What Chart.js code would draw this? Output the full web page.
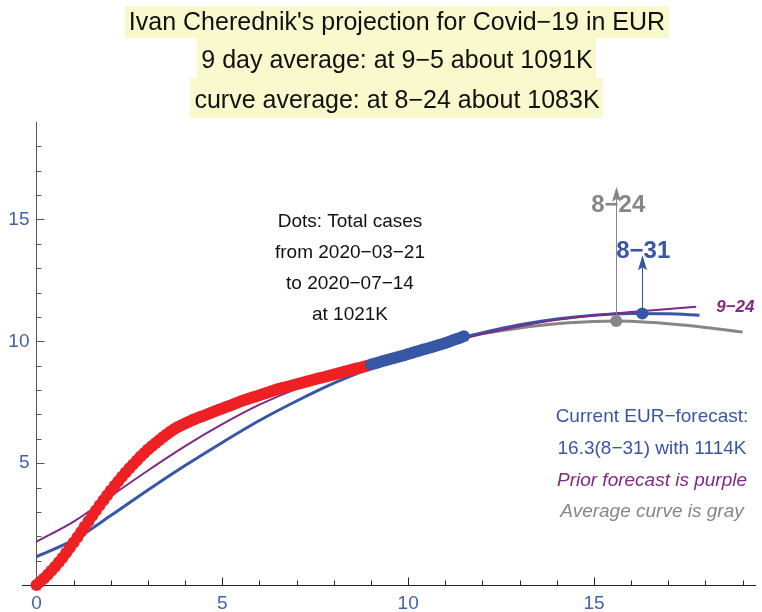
<!DOCTYPE html>
<html><head><meta charset="utf-8">
<script src="https://cdn.jsdelivr.net/npm/chart.js@4.4.0/dist/chart.umd.min.js"></script>
<style>html,body{margin:0;padding:0;background:#fff;}#wrap{width:762px;height:612px;}</style>
</head><body><div id="wrap"><canvas id="c" width="762" height="612"></canvas></div>
<script>
// ---- data ----
const titleLines = ["Ivan Cherednik's projection for Covid\u221219 in EUR",
                    "9 day average: at 9\u22125 about 1091K",
                    "curve average: at 8\u221224 about 1083K"];
const daysPerUnit = 10;
// total cases (100K) daily from 2020-03-21 (day 0)
const redStartDay = 0;
const redValues = [
 0.00,0.13,0.27,0.42,0.58,0.75,0.93,1.12,1.32,1.53,
 1.74,1.96,2.18,2.40,2.62,2.84,3.06,3.27,3.48,3.68,
 3.88,4.07,4.26,4.44,4.62,4.79,4.95,5.11,5.27,5.42,
 5.56,5.69,5.82,5.94,6.06,6.18,6.29,6.39,6.48,6.56,
 6.63,6.70,6.77,6.83,6.89,6.95,7.01,7.07,7.13,7.19,
 7.24,7.30,7.36,7.42,7.48,7.54,7.59,7.64,7.69,7.74,
 7.79,7.84,7.89,7.94,7.99,8.04,8.08,8.12,8.16,8.20,
 8.24,8.28,8.32,8.36,8.40,8.44,8.48,8.52,8.56,8.60,
 8.64,8.68,8.72,8.76,8.80,8.84,8.88,8.92,8.96,9.00];
const blueStartDay = 90;
const blueValues = [
 9.05,9.09,9.13,9.18,9.22,9.26,9.30,9.35,9.39,9.43,
 9.48,9.52,9.57,9.61,9.66,9.70,9.75,9.79,9.84,9.88,
 9.93,9.98,10.04,10.09,10.15,10.21];
// current forecast curve (blue)
const blueCurveX = [0,1,2,3,4,5,6,7,8,9,10,11,12,13,14,15,16,17,17.84];
const blueCurveY = [1.16,1.85,2.85,3.9,4.9,5.85,6.75,7.55,8.28,8.9,9.45,9.95,10.35,10.68,10.92,11.07,11.14,11.13,11.07];
// prior forecast (purple)
const purpleCurveX = [0,1,2,3,4,5,6,7,8,9,10,11,12,13,14,15,16,17,17.75];
const purpleCurveY = [1.78,2.6,3.65,4.7,5.7,6.6,7.4,8.05,8.55,9.0,9.45,9.9,10.3,10.62,10.88,11.06,11.2,11.33,11.42];
// average curve (gray)
const grayCurveX = [11.6,12,13,14,15,15.6,16,17,18,19];
const grayCurveY = [10.21,10.32,10.55,10.72,10.81,10.83,10.82,10.72,10.57,10.38];
// markers: [x, y, arrow tip y]
const grayMarker = [15.6, 10.83, 16.34];
const blueMarker = [16.3, 11.14, 13.53];
const markerLabels = ["8\u221224", "8\u221231", "9\u221224"];
const xTicks = [0,5,10,15];
const yTicks = [5,10,15];
const dotsText = ["Dots: Total cases","from 2020\u221203\u221221","to 2020\u221207\u221214","at 1021K"];
const legendText = ["Current EUR\u2212forecast:","16.3(8\u221231) with 1114K","Prior forecast is purple","Average curve is gray"];

// ---- styles ----
const C_BLUE = '#3757a6', C_PURPLE = '#7f2a85', C_GRAY = '#868686', C_RED = '#ee2024', C_TICK = '#4462ab';
const FONT = '"Liberation Sans", Arial, sans-serif';
const X_MIN = -0.39, X_MAX = 19.36, Y_MIN = 0, Y_MAX = 19;

const pts = (xs, ys) => xs.map((v, i) => ({x: v, y: ys[i]}));
const dayPts = (start, vals) => vals.map((v, i) => ({x: (start + i) / daysPerUnit, y: v}));

const overlay = {
  id: 'overlay',
  beforeDatasetsDraw(chart) {
    const {ctx, scales: {x, y}} = chart;
    const x0 = Math.round(x.getPixelForValue(0)) + 0.5;
    const y0 = Math.round(y.getPixelForValue(0)) + 0.5;
    ctx.save();
    ctx.lineWidth = 1;
    // y axis
    ctx.strokeStyle = '#555';
    ctx.beginPath();
    ctx.moveTo(x0, y0); ctx.lineTo(x0, y.getPixelForValue(Y_MAX));
    for (let v = 1; v <= 18; v++) {
      const p = Math.round(y.getPixelForValue(v)) + 0.5;
      ctx.moveTo(x0, p); ctx.lineTo(x0 + (v % 5 === 0 ? 8 : 5), p);
    }
    ctx.stroke();
    // x axis
    ctx.strokeStyle = '#222';
    ctx.beginPath();
    ctx.moveTo(x.getPixelForValue(X_MIN), y0); ctx.lineTo(x.getPixelForValue(X_MAX), y0);
    for (let v = 1; v <= 19; v++) {
      const p = Math.round(x.getPixelForValue(v)) + 0.5;
      ctx.moveTo(p, y0); ctx.lineTo(p, y0 - (v % 5 === 0 ? 8 : 5));
    }
    ctx.stroke();
    // tick labels
    ctx.fillStyle = C_TICK;
    ctx.font = '19px ' + FONT;
    ctx.textAlign = 'center'; ctx.textBaseline = 'middle';
    xTicks.forEach(v => ctx.fillText(String(v), x.getPixelForValue(v), y0 + 18));
    ctx.textAlign = 'right';
    yTicks.forEach(v => ctx.fillText(String(v), x0 - 7, y.getPixelForValue(v)));
    ctx.restore();
  },
  afterDatasetsDraw(chart) {
    const {ctx, scales: {x, y}} = chart;
    ctx.save();
    const arrow = (m, color) => {
      const px = Math.round(x.getPixelForValue(m[0])) + 0.5;
      const pb = y.getPixelForValue(m[1]);
      const pt = y.getPixelForValue(m[2]);
      ctx.strokeStyle = color; ctx.fillStyle = color; ctx.lineWidth = 1;
      ctx.beginPath(); ctx.moveTo(px, pb); ctx.lineTo(px, pt + 10); ctx.stroke();
      ctx.beginPath(); ctx.moveTo(px, pt); ctx.lineTo(px - 4.5, pt + 15); ctx.lineTo(px, pt + 12); ctx.lineTo(px + 4.5, pt + 15); ctx.closePath(); ctx.fill();
    };
    arrow(grayMarker, C_GRAY);
    arrow(blueMarker, C_BLUE);
    ctx.textAlign = 'center'; ctx.textBaseline = 'middle';
    ctx.font = 'bold 24px ' + FONT;
    ctx.fillStyle = C_GRAY;
    ctx.fillText(markerLabels[0], x.getPixelForValue(grayMarker[0]) + 2, y.getPixelForValue(grayMarker[2]) + 19);
    ctx.fillStyle = C_BLUE;
    ctx.fillText(markerLabels[1], x.getPixelForValue(blueMarker[0]) + 1, y.getPixelForValue(blueMarker[2]) - 4);
    ctx.font = 'italic bold 17px ' + FONT;
    ctx.fillStyle = C_PURPLE;
    ctx.textAlign = 'left';
    ctx.fillText(markerLabels[2], x.getPixelForValue(purpleCurveX[purpleCurveX.length - 1]) + 20, y.getPixelForValue(purpleCurveY[purpleCurveY.length - 1]) + 1);
    ctx.restore();
  },
  afterDraw(chart) {
    const {ctx} = chart;
    ctx.save();
    // title with highlight boxes
    ctx.font = '25px ' + FONT;
    ctx.textAlign = 'center'; ctx.textBaseline = 'middle';
    const boxes = [[6, 38], [38, 78], [78, 118]];
    const centers = [23, 61, 101];
    const cx = 397;
    titleLines.forEach((t, i) => {
      const w = ctx.measureText(t).width + 8;
      ctx.fillStyle = '#faf8cd';
      ctx.fillRect(Math.round(cx - w / 2), boxes[i][0], Math.round(w), boxes[i][1] - boxes[i][0]);
    });
    ctx.fillStyle = '#111';
    titleLines.forEach((t, i) => ctx.fillText(t, cx, centers[i]));
    // dots annotation
    ctx.font = '19px ' + FONT;
    ctx.fillStyle = '#111';
    dotsText.forEach((t, i) => ctx.fillText(t, 350, 222 + i * 31));
    // legend text
    const lc = [C_BLUE, C_BLUE, C_PURPLE, C_GRAY];
    legendText.forEach((t, i) => {
      ctx.font = (i >= 2 ? 'italic ' : '') + '19px ' + FONT;
      ctx.fillStyle = lc[i];
      ctx.fillText(t, 652, 417 + i * 31.7);
    });
    ctx.restore();
  }
};

new Chart(document.getElementById('c'), {
  type: 'scatter',
  data: {
    datasets: [
      {data: [{x: grayMarker[0], y: grayMarker[1]}], pointRadius: 6, backgroundColor: C_GRAY, borderWidth: 0, order: 0, clip: false},
      {data: [{x: blueMarker[0], y: blueMarker[1]}], pointRadius: 6, backgroundColor: C_BLUE, borderWidth: 0, order: 0, clip: false},
      {data: dayPts(blueStartDay, blueValues), pointRadius: 6, backgroundColor: C_BLUE, borderWidth: 0, order: 1, clip: false},
      {data: dayPts(redStartDay, redValues), pointRadius: 6, backgroundColor: C_RED, borderWidth: 0, order: 2, clip: false},
      {data: pts(purpleCurveX, purpleCurveY), showLine: true, pointRadius: 0, borderColor: C_PURPLE, borderWidth: 2, cubicInterpolationMode: 'monotone', order: 3},
      {data: pts(blueCurveX, blueCurveY), showLine: true, pointRadius: 0, borderColor: C_BLUE, borderWidth: 3, cubicInterpolationMode: 'monotone', order: 4},
      {data: pts(grayCurveX, grayCurveY), showLine: true, pointRadius: 0, borderColor: C_GRAY, borderWidth: 3, cubicInterpolationMode: 'monotone', order: 5}
    ]
  },
  options: {
    responsive: false, animation: false,
    layout: {padding: {left: 22, right: 0, top: 122, bottom: 27}},
    plugins: {legend: {display: false}, tooltip: {enabled: false}, title: {display: false}},
    scales: {
      x: {type: 'linear', min: X_MIN, max: X_MAX, display: false},
      y: {type: 'linear', min: Y_MIN, max: Y_MAX, display: false}
    }
  },
  plugins: [overlay]
});
</script>
</body></html>
